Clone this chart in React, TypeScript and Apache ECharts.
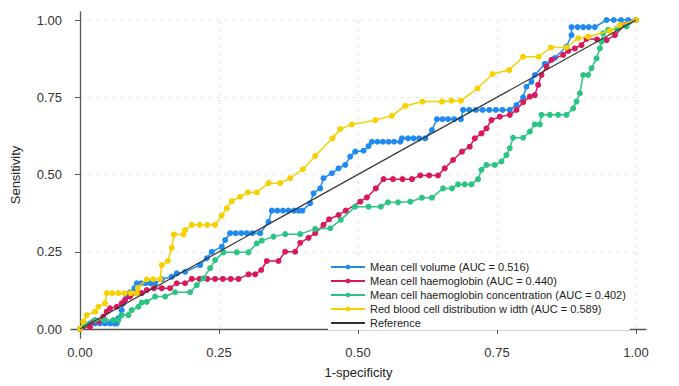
import React, { useEffect, useRef } from "react";
import * as echarts from "echarts";

const tickValues = [0, 0.25, 0.5, 0.75, 1];

const seriesNames = [
  "Mean cell volume (AUC = 0.516)",
  "Mean cell haemoglobin (AUC = 0.440)",
  "Mean cell haemoglobin concentration (AUC = 0.402)",
  "Red blood cell distribution w idth (AUC = 0.589)",
  "Reference",
];

const seriesColors = ["#1f8bf0", "#d8195c", "#2cc483", "#f7d000", "#333333"];

const mcvPoints: [number, number][] = [
  [0, 0], [0.007, 0.01], [0.018, 0.018], [0.027, 0.018], [0.036, 0.018], [0.045, 0.018],
  [0.054, 0.018], [0.062, 0.018], [0.066, 0.018], [0.069, 0.035], [0.075, 0.061],
  [0.078, 0.083], [0.084, 0.105], [0.09, 0.119], [0.098, 0.132], [0.102, 0.148],
  [0.11, 0.148], [0.118, 0.148], [0.127, 0.148], [0.135, 0.148], [0.147, 0.161],
  [0.165, 0.169], [0.174, 0.18], [0.189, 0.185], [0.216, 0.207], [0.228, 0.229],
  [0.237, 0.25], [0.255, 0.266], [0.261, 0.288], [0.27, 0.31], [0.28, 0.31],
  [0.29, 0.31], [0.3, 0.31], [0.31, 0.31], [0.324, 0.31], [0.339, 0.347],
  [0.345, 0.383], [0.355, 0.383], [0.365, 0.383], [0.375, 0.383], [0.385, 0.383],
  [0.393, 0.383], [0.4, 0.383], [0.414, 0.407], [0.42, 0.439], [0.432, 0.455],
  [0.438, 0.488], [0.453, 0.504], [0.465, 0.52], [0.477, 0.531], [0.486, 0.558],
  [0.495, 0.574], [0.51, 0.577], [0.519, 0.592], [0.525, 0.606], [0.535, 0.606],
  [0.545, 0.606], [0.555, 0.606], [0.565, 0.606], [0.576, 0.606], [0.579, 0.617],
  [0.59, 0.617], [0.6, 0.617], [0.61, 0.617], [0.621, 0.617], [0.633, 0.644],
  [0.642, 0.679], [0.652, 0.679], [0.662, 0.679], [0.673, 0.679], [0.685, 0.679],
  [0.689, 0.709], [0.7, 0.709], [0.712, 0.709], [0.724, 0.709], [0.736, 0.709],
  [0.748, 0.709], [0.76, 0.709], [0.773, 0.709], [0.785, 0.725], [0.797, 0.75],
  [0.803, 0.784], [0.812, 0.8], [0.818, 0.822], [0.836, 0.858], [0.854, 0.877],
  [0.875, 0.914], [0.884, 0.951], [0.884, 0.977], [0.895, 0.977], [0.905, 0.977],
  [0.915, 0.977], [0.926, 0.977], [0.947, 1], [0.96, 1], [0.973, 1], [0.986, 1], [1, 1],
];

const mchPoints: [number, number][] = [
  [0, 0], [0.018, 0.007], [0.024, 0.024], [0.033, 0.024], [0.042, 0.04], [0.048, 0.056],
  [0.054, 0.067], [0.066, 0.072], [0.075, 0.083], [0.081, 0.094], [0.09, 0.105],
  [0.102, 0.116], [0.111, 0.116], [0.12, 0.126], [0.133, 0.132], [0.147, 0.132],
  [0.162, 0.132], [0.174, 0.148], [0.189, 0.148], [0.201, 0.162], [0.215, 0.162],
  [0.229, 0.162], [0.243, 0.162], [0.257, 0.162], [0.271, 0.162], [0.285, 0.162],
  [0.303, 0.177], [0.315, 0.177], [0.326, 0.191], [0.336, 0.22], [0.357, 0.22],
  [0.369, 0.25], [0.387, 0.25], [0.396, 0.279], [0.411, 0.295], [0.423, 0.31],
  [0.438, 0.337], [0.448, 0.355], [0.465, 0.369], [0.478, 0.383], [0.504, 0.412],
  [0.516, 0.426], [0.532, 0.455], [0.546, 0.485], [0.563, 0.485], [0.58, 0.485],
  [0.597, 0.485], [0.612, 0.497], [0.628, 0.497], [0.644, 0.497], [0.656, 0.52],
  [0.671, 0.547], [0.687, 0.574], [0.701, 0.59], [0.71, 0.617], [0.722, 0.633],
  [0.731, 0.649], [0.74, 0.676], [0.755, 0.687], [0.773, 0.693], [0.785, 0.709],
  [0.797, 0.734], [0.809, 0.752], [0.818, 0.757], [0.824, 0.79], [0.83, 0.822],
  [0.839, 0.849], [0.848, 0.871], [0.869, 0.887], [0.878, 0.9], [0.89, 0.908],
  [0.902, 0.919], [0.911, 0.939], [0.93, 0.937], [0.947, 0.935], [0.962, 0.951],
  [0.98, 0.984], [1, 1],
];

const mchcPoints: [number, number][] = [
  [0, 0], [0.009, 0.015], [0.027, 0.029], [0.045, 0.029], [0.06, 0.029], [0.069, 0.029],
  [0.075, 0.045], [0.087, 0.045], [0.093, 0.061], [0.105, 0.072], [0.111, 0.086],
  [0.12, 0.088], [0.135, 0.105], [0.153, 0.105], [0.171, 0.119], [0.198, 0.119],
  [0.21, 0.142], [0.222, 0.164], [0.234, 0.197], [0.243, 0.223], [0.258, 0.248],
  [0.282, 0.248], [0.303, 0.248], [0.318, 0.277], [0.327, 0.286], [0.348, 0.299],
  [0.369, 0.307], [0.396, 0.307], [0.423, 0.324], [0.45, 0.326], [0.469, 0.353],
  [0.495, 0.396], [0.519, 0.396], [0.541, 0.396], [0.554, 0.41], [0.572, 0.41],
  [0.594, 0.412], [0.615, 0.425], [0.633, 0.425], [0.653, 0.455], [0.669, 0.455],
  [0.68, 0.468], [0.692, 0.468], [0.704, 0.468], [0.716, 0.485], [0.722, 0.515],
  [0.731, 0.531], [0.746, 0.531], [0.758, 0.542], [0.767, 0.563], [0.773, 0.585],
  [0.779, 0.619], [0.797, 0.619], [0.809, 0.639], [0.818, 0.662], [0.827, 0.662],
  [0.83, 0.693], [0.845, 0.693], [0.86, 0.693], [0.875, 0.693], [0.887, 0.714],
  [0.893, 0.736], [0.899, 0.763], [0.905, 0.822], [0.914, 0.822], [0.92, 0.844],
  [0.929, 0.876], [0.935, 0.908], [0.938, 0.93], [0.941, 0.957], [0.95, 0.968],
  [0.966, 0.972], [0.983, 0.979], [1, 1],
];

const rdwPoints: [number, number][] = [
  [0, 0], [0.006, 0.024], [0.012, 0.045], [0.027, 0.056], [0.033, 0.072], [0.045, 0.083],
  [0.048, 0.116], [0.058, 0.116], [0.069, 0.116], [0.08, 0.116], [0.091, 0.116],
  [0.102, 0.116], [0.104, 0.133], [0.12, 0.161], [0.132, 0.161], [0.144, 0.161],
  [0.147, 0.207], [0.158, 0.22], [0.165, 0.263], [0.169, 0.306], [0.186, 0.306],
  [0.189, 0.32], [0.201, 0.337], [0.215, 0.337], [0.229, 0.337], [0.243, 0.337],
  [0.255, 0.367], [0.264, 0.391], [0.273, 0.414], [0.288, 0.428], [0.302, 0.442],
  [0.318, 0.442], [0.339, 0.472], [0.36, 0.472], [0.378, 0.488], [0.401, 0.517],
  [0.423, 0.56], [0.454, 0.617], [0.468, 0.647], [0.489, 0.662], [0.531, 0.676],
  [0.561, 0.69], [0.585, 0.722], [0.616, 0.736], [0.651, 0.736], [0.668, 0.739],
  [0.685, 0.739], [0.715, 0.779], [0.742, 0.825], [0.772, 0.838], [0.797, 0.881],
  [0.825, 0.881], [0.847, 0.911], [0.875, 0.911], [0.896, 0.941], [0.914, 0.946],
  [0.953, 0.965], [0.971, 0.984], [1, 1],
];

const referencePoints: [number, number][] = [
  [0, 0],
  [1, 1],
];

const pointSets = [mcvPoints, mchPoints, mchcPoints, rdwPoints];

export default function App() {
  const ref = useRef<HTMLDivElement>(null);

  useEffect(() => {
    if (!ref.current) return;
    const chart = echarts.init(ref.current, undefined, { renderer: "svg" });
    const font = "'Liberation Sans', Arial, sans-serif";

    const dataSeries: any[] = pointSets.map((pts, i) => ({
      name: seriesNames[i],
      type: "line",
      xAxisIndex: 1,
      yAxisIndex: 1,
      data: pts,
      clip: false,
      symbol: "circle",
      symbolSize: 6,
      showSymbol: true,
      color: seriesColors[i],
      lineStyle: { width: 1.5, color: seriesColors[i] },
      itemStyle: { color: seriesColors[i] },
      z: 3 + i,
    }));
    dataSeries.push({
      name: seriesNames[4],
      type: "line",
      xAxisIndex: 1,
      yAxisIndex: 1,
      data: referencePoints,
      clip: false,
      symbol: "none",
      color: seriesColors[4],
      lineStyle: { width: 1.2, color: seriesColors[4] },
      itemStyle: { color: seriesColors[4], opacity: 0 },
      z: 10,
    });

    chart.setOption({
      animation: false,
      backgroundColor: "#ffffff",
      textStyle: { fontFamily: font },
      grid: [
        { left: 71, right: 33, top: 12, bottom: 48 },
        { left: 80, right: 43, top: 20, bottom: 57 },
      ],
      xAxis: [
        {
          type: "value",
          gridIndex: 0,
          min: -0.0162,
          max: 1.018,
          name: "1-specificity",
          nameLocation: "middle",
          nameGap: 28,
          nameTextStyle: { fontSize: 13, color: "#222", fontFamily: font },
          axisLine: { show: true, lineStyle: { color: "#555", width: 1.3 } },
          axisTick: { show: true, length: 5, customValues: tickValues, lineStyle: { color: "#555" } },
          axisLabel: {
            customValues: tickValues,
            margin: 8,
            fontSize: 13,
            color: "#333",
            fontFamily: font,
            formatter: (v: number) => v.toFixed(2),
          },
          splitLine: { show: false },
        },
        {
          type: "value",
          gridIndex: 1,
          min: 0,
          max: 1,
          interval: 0.25,
          axisLine: { show: false },
          axisTick: { show: false },
          axisLabel: { show: false },
          splitLine: { show: true, lineStyle: { color: "#e8e8e8", type: [4, 4], width: 1 } },
        },
      ],
      yAxis: [
        {
          type: "value",
          gridIndex: 0,
          min: -0.0291,
          max: 1.0259,
          name: "Sensitivity",
          nameLocation: "middle",
          nameGap: 49,
          nameTextStyle: { fontSize: 13, color: "#222", fontFamily: font },
          axisLine: { show: true, lineStyle: { color: "#555", width: 1.3 } },
          axisTick: { show: true, length: 5, customValues: tickValues, lineStyle: { color: "#555" } },
          axisLabel: {
            customValues: tickValues,
            margin: 9,
            fontSize: 13,
            color: "#333",
            fontFamily: font,
            formatter: (v: number) => v.toFixed(2),
          },
          splitLine: { show: false },
        },
        {
          type: "value",
          gridIndex: 1,
          min: 0,
          max: 1,
          interval: 0.25,
          axisLine: { show: false },
          axisTick: { show: false },
          axisLabel: { show: false },
          splitLine: { show: true, lineStyle: { color: "#e8e8e8", type: [4, 4], width: 1 } },
        },
      ],
      legend: {
        orient: "vertical",
        left: 328,
        top: 260,
        padding: [1, 4, 1, 2],
        itemGap: 2,
        itemWidth: 34,
        itemHeight: 6,
        backgroundColor: "#ffffff",
        textStyle: { fontSize: 11, color: "#222", fontFamily: font, lineHeight: 12 },
        data: seriesNames,
      },
      series: dataSeries,
    });

    return () => chart.dispose();
  }, []);

  return (
    <div
      ref={ref}
      style={{ position: "absolute", left: 0, top: 0, width: 679, height: 386 }}
    />
  );
}
